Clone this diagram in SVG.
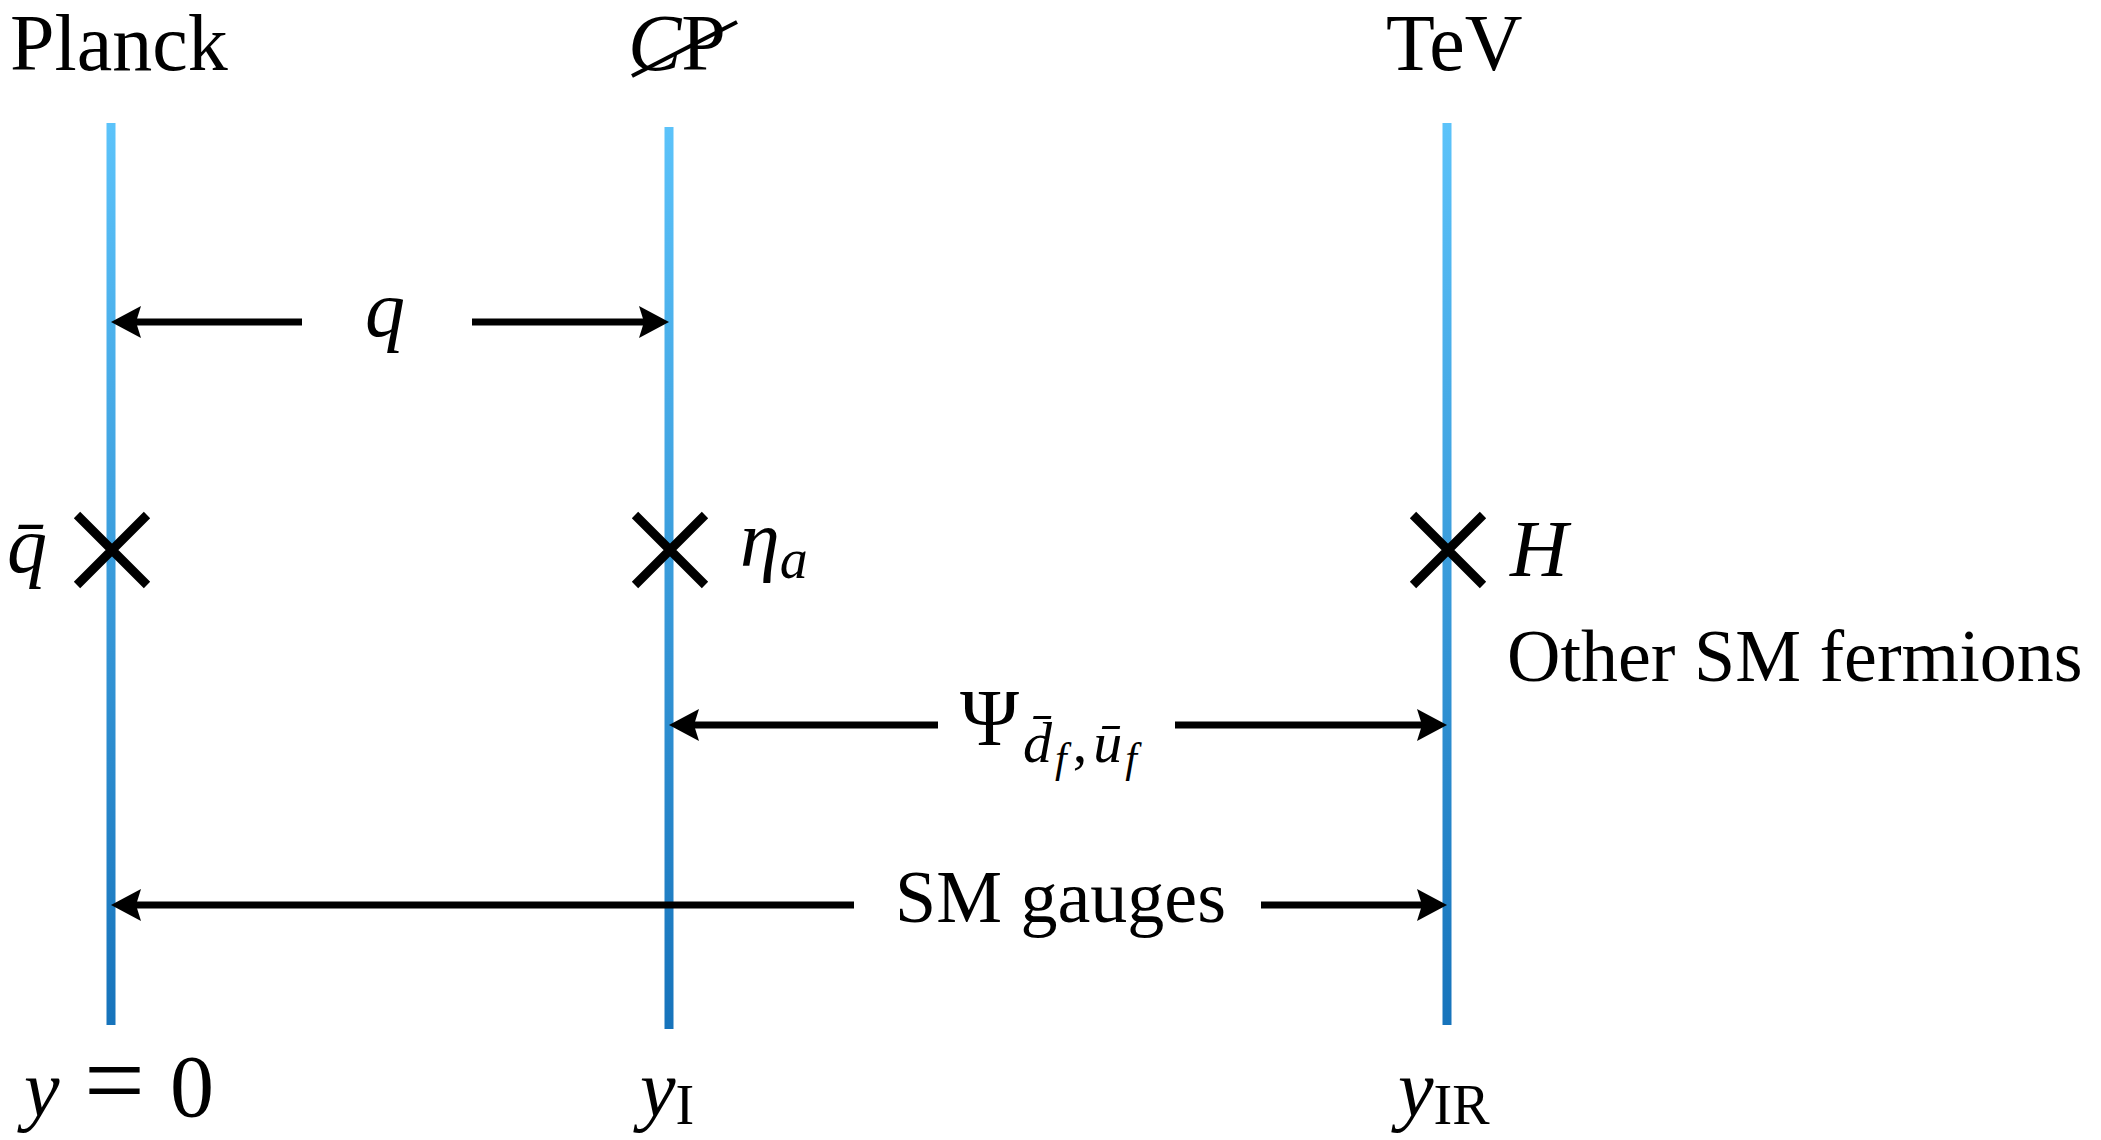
<svg xmlns="http://www.w3.org/2000/svg" width="2101" height="1140" viewBox="0 0 2101 1140">
<style>
text{font-family:"Liberation Serif","Times New Roman","DejaVu Serif",serif;fill:#000}
.i{font-style:italic}
.brane{stroke:url(#bg);stroke-width:9;fill:none}
.x{stroke:#000;stroke-width:9;stroke-linecap:butt;fill:none}
.arr{stroke:#000;stroke-width:7;fill:none;marker-end:url(#ah)}
</style>
<defs>
<linearGradient id="bg" gradientUnits="userSpaceOnUse" x1="0" y1="123" x2="0" y2="1029">
<stop offset="0" stop-color="#5cc3fa"/>
<stop offset="1" stop-color="#1673bb"/>
</linearGradient>
<marker id="ah" viewBox="-24 -18 38 36" refX="0" refY="0" markerWidth="38" markerHeight="36" markerUnits="userSpaceOnUse" orient="auto" overflow="visible">
<path d="M12,0 L-18,-16 L-13,0 L-18,16 Z" fill="#000"/>
</marker>
</defs>
<rect width="2101" height="1140" fill="#fff"/>

<g id="brane-planck">
<line class="brane" x1="111" y1="123" x2="111" y2="1025"/>
<path class="x" d="M77,515 L147,585 M147,515 L77,585"/>
<text x="10" y="70" font-size="80">Planck</text>
<text class="i" x="7" y="572" font-size="80">q̄</text>
<text x="24" y="1116" font-size="80"><tspan class="i">y</tspan><tspan x="84" font-size="108">=</tspan><tspan x="170" font-size="88">0</tspan></text>
</g>

<g id="brane-cp">
<line class="brane" x1="669" y1="127" x2="669" y2="1029"/>
<path class="x" d="M635,515 L705,585 M705,515 L635,585"/>
<text x="628" y="70" font-size="80"><tspan class="i">C</tspan>P</text>
<line x1="632" y1="76" x2="737" y2="22" stroke="#000" stroke-width="4"/>
<text x="740" y="566" font-size="80"><tspan class="i">η</tspan><tspan class="i" font-size="56" dy="12">a</tspan></text>
<text x="640" y="1116" font-size="80"><tspan class="i">y</tspan><tspan font-size="56" dy="8">I</tspan></text>
</g>

<g id="brane-tev">
<line class="brane" x1="1447" y1="123" x2="1447" y2="1025"/>
<path class="x" d="M1413,515 L1483,585 M1483,515 L1413,585"/>
<text x="1386" y="70" font-size="80">TeV</text>
<text class="i" x="1510" y="576" font-size="80">H</text>
<text x="1507" y="681" font-size="74">Other SM fermions</text>
<text x="1398" y="1116" font-size="80"><tspan class="i">y</tspan><tspan font-size="56" dy="8">IR</tspan></text>
</g>

<g id="connectors">
<line class="arr" x1="302" y1="322" x2="123" y2="322"/>
<line class="arr" x1="472" y1="322" x2="657" y2="322"/>
<line class="arr" x1="938" y1="725" x2="681" y2="725"/>
<line class="arr" x1="1175" y1="725" x2="1435" y2="725"/>
<line class="arr" x1="854" y1="905" x2="123" y2="905"/>
<line class="arr" x1="1261" y1="905" x2="1435" y2="905"/>
</g>

<g id="labels">
<text class="i" x="385" y="336" text-anchor="middle" font-size="80">q</text>
<text x="960" y="745" font-size="80">Ψ<tspan class="i" font-size="58" dx="4" dy="17">d̄</tspan><tspan class="i" font-size="42" dx="3" dy="10">f</tspan><tspan font-size="58" dx="6" dy="-10">,</tspan><tspan class="i" font-size="58" dx="6">ū</tspan><tspan class="i" font-size="42" dx="3" dy="10">f</tspan></text>
<text x="895" y="922" font-size="74">SM gauges</text>
</g>
</svg>
